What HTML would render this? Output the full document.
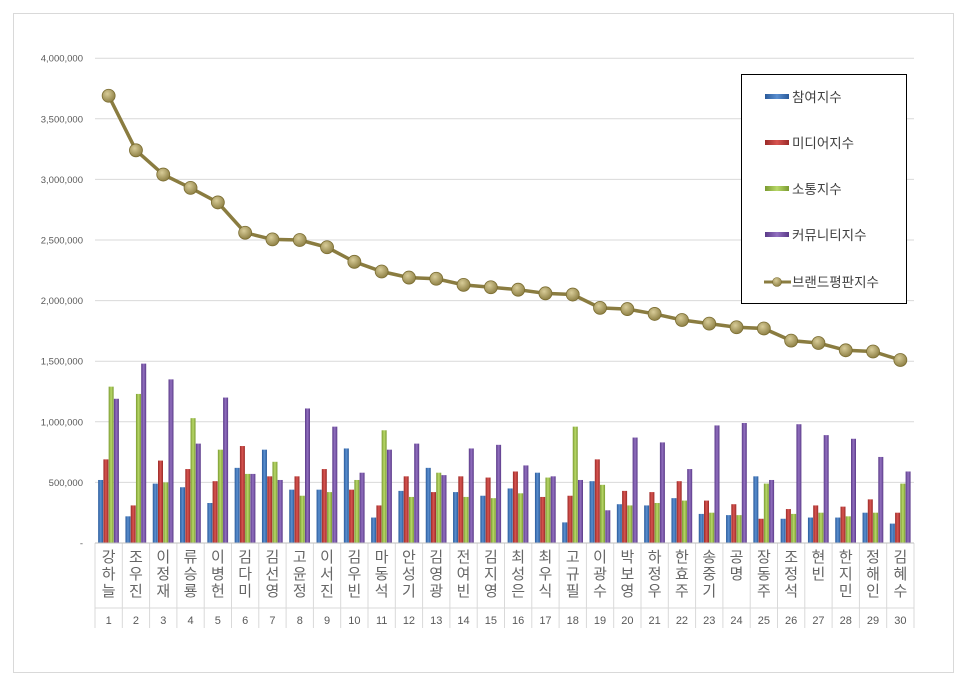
<!DOCTYPE html>
<html><head><meta charset="utf-8"><style>
body{margin:0;background:#fff;}
svg text{font-family:"Liberation Sans","Noto Sans CJK KR",sans-serif;}
</style></head><body>
<svg id="s" width="966" height="683" xmlns="http://www.w3.org/2000/svg">
<defs>
<linearGradient id="gb" x1="0" x2="1"><stop offset="0" stop-color="#2a5a9a"/><stop offset="0.5" stop-color="#5a8fd0"/><stop offset="1" stop-color="#2a5a9a"/></linearGradient>
<linearGradient id="gr" x1="0" x2="1"><stop offset="0" stop-color="#9a2a28"/><stop offset="0.5" stop-color="#d85450"/><stop offset="1" stop-color="#9a2a28"/></linearGradient>
<linearGradient id="gg" x1="0" x2="1"><stop offset="0" stop-color="#7a9a30"/><stop offset="0.5" stop-color="#b8d868"/><stop offset="1" stop-color="#7a9a30"/></linearGradient>
<linearGradient id="gp" x1="0" x2="1"><stop offset="0" stop-color="#5a3a88"/><stop offset="0.5" stop-color="#9270c0"/><stop offset="1" stop-color="#5a3a88"/></linearGradient>
<radialGradient id="gm" cx="0.4" cy="0.35" r="0.7"><stop offset="0" stop-color="#d8cc98"/><stop offset="1" stop-color="#8a7c40"/></radialGradient>
</defs>
<rect x="13.5" y="13.5" width="940" height="659" fill="#fff" stroke="#d9d9d9"/>
<g id="g"></g>
</svg>
<script>
const g=document.getElementById('g');let h='';
const y0=543,k=60.6/500;
const ticks=['-','500,000','1,000,000','1,500,000','2,000,000','2,500,000','3,000,000','3,500,000','4,000,000'];
for(let i=0;i<9;i++){const y=y0-i*60.6;
 if(i>0)h+=`<line x1="95" x2="914" y1="${y}" y2="${y}" stroke="#d9d9d9"/>`;
 h+=`<text x="83" y="${y+3.5}" font-size="9.5" fill="#595959" text-anchor="end">${ticks[i]}</text>`;}
const names=['강하늘','조우진','이정재','류승룡','이병헌','김다미','김선영','고윤정','이서진','김우빈','마동석','안성기','김영광','전여빈','김지영','최성은','최우식','고규필','이광수','박보영','하정우','한효주','송중기','공명','장동주','조정석','현빈','한지민','정해인','김혜수'];
const d=[[520,690,1290,1190],[220,310,1230,1480],[490,680,500,1350],[460,610,1030,820],[330,510,770,1200],[620,800,570,570],[770,550,670,520],[440,550,390,1110],[440,610,420,960],[780,440,520,580],[210,310,930,770],[430,550,380,820],[620,420,580,560],[420,550,380,780],[390,540,370,810],[450,590,410,640],[580,380,540,550],[170,390,960,520],[510,690,480,270],[320,430,310,870],[310,420,330,830],[370,510,350,610],[240,350,250,970],[230,320,230,990],[550,200,490,520],[200,280,240,980],[210,310,250,890],[210,300,220,860],[250,360,250,710],[160,250,490,590]];
const L=[3690,3240,3040,2930,2810,2560,2505,2500,2440,2320,2240,2190,2180,2130,2110,2090,2060,2050,1940,1930,1890,1840,1810,1780,1770,1670,1650,1590,1580,1510];
const W=27.3,x0=95,gs=['gb','gr','gg','gp'];
for(let i=0;i<30;i++){const c=x0+W*i+W/2;
 for(let j=0;j<4;j++){const v=d[i][j]*k;h+=`<rect x="${c-10.5+j*5.25}" y="${y0-v}" width="5" height="${v}" fill="url(#${gs[j]})"/>`;}
 h+=`<line x1="${x0+W*i}" x2="${x0+W*i}" y1="${y0}" y2="628" stroke="#d9d9d9"/>`;
 const n=[...names[i]];n.forEach((ch,m)=>{h+=`<text x="${c}" y="${562+m*17}" font-size="15" fill="#666" text-anchor="middle">${ch}</text>`;});
 h+=`<text x="${c}" y="624" font-size="11" fill="#595959" text-anchor="middle">${i+1}</text>`;}
h+=`<line x1="914" x2="914" y1="${y0}" y2="628" stroke="#d9d9d9"/>`;
h+=`<line x1="95" x2="914" y1="${y0}" y2="${y0}" stroke="#bfbfbf"/>`;
h+=`<line x1="95" x2="914" y1="608" y2="608" stroke="#d9d9d9"/>`;
let p='';for(let i=0;i<30;i++){p+=(i?'L':'M')+(x0+W*i+W/2)+' '+(y0-L[i]*k);}
h+=`<path d="${p}" fill="none" stroke="#8a7c40" stroke-width="3.5"/>`;
for(let i=0;i<30;i++)h+=`<circle cx="${x0+W*i+W/2}" cy="${y0-L[i]*k}" r="6.5" fill="url(#gm)" stroke="#7a6c30" stroke-width="0.8"/>`;
h+=`<rect x="741.5" y="74.5" width="165" height="229" fill="#fff" stroke="#000"/>`;
const ln=['참여지수','미디어지수','소통지수','커뮤니티지수'];
ln.forEach((t,j)=>{const y=97+j*46;h+=`<rect x="765" y="${y-3}" width="24" height="5" fill="url(#${gs[j]})"/><text x="792" y="${y+5}" font-size="13.5" fill="#404040">${t}</text>`;});
h+=`<line x1="764" x2="791" y1="282" y2="282" stroke="#8a7c40" stroke-width="3"/><circle cx="777" cy="282" r="4.5" fill="url(#gm)" stroke="#7a6c30" stroke-width="0.6"/><text x="792" y="287" font-size="13.5" fill="#404040">브랜드평판지수</text>`;
g.innerHTML=h;
</script>
</body></html>
